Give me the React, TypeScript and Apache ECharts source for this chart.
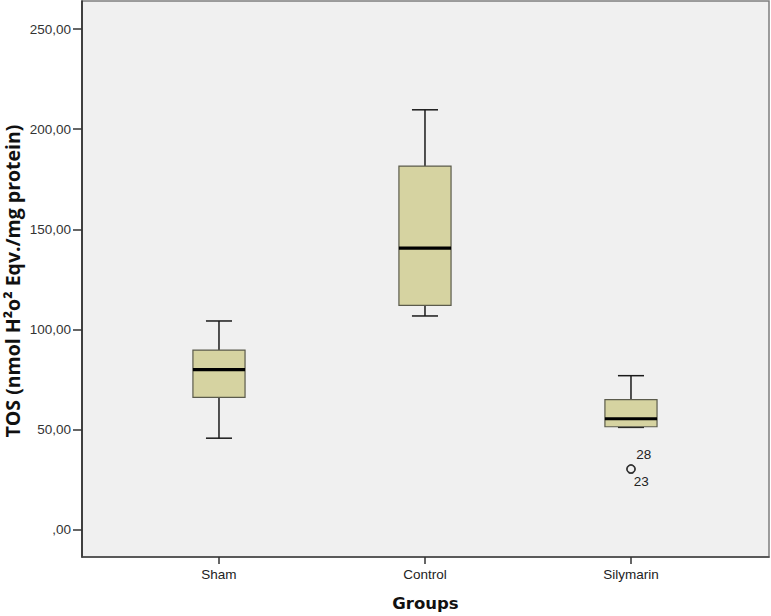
import React, { useEffect, useRef } from "react";
import * as echarts from "echarts";

const categories = ["Sham", "Control", "Silymarin"];
const lowWhisker = [45.8, 106.8, 51.2];
const q1Values = [66.2, 112.1, 51.5];
const medianValues = [80.0, 140.7, 55.5];
const q3Values = [89.8, 181.6, 65.0];
const highWhisker = [104.3, 209.7, 77.0];
const outliers = [
  { group: 2, value: 30.4, caseId: "28" },
  { group: 2, value: 30.4, caseId: "23" },
];
const yTicks = [0, 50, 100, 150, 200, 250];
const yTitle = "TOS (nmol H²o² Eqv./mg protein)";
const xTitle = "Groups";

export default function App() {
  const ref = useRef<HTMLDivElement>(null);
  useEffect(() => {
    document.body.style.margin = "0";
    const chart = echarts.init(ref.current!, undefined, { renderer: "svg" });
    const boxData = categories.map((_, i) => [
      i,
      lowWhisker[i],
      q1Values[i],
      medianValues[i],
      q3Values[i],
      highWhisker[i],
    ]);
    const option: any = {
      animation: false,
      backgroundColor: "#ffffff",
      grid: {
        left: 82,
        right: 2,
        top: 1,
        bottom: 59,
        containLabel: false,
        outerBoundsMode: "none",
        show: true,
        backgroundColor: "#f0f0f0",
        borderColor: "#7d7d7d",
        borderWidth: 1.5,
      },
      graphic: [
        {
          type: "text",
          x: 12,
          y: 281,
          rotation: Math.PI / 2,
          style: {
            text: yTitle,
            fontFamily: "Open Sans",
            fontWeight: "bold",
            fontSize: 19.5,
            fill: "#111",
            align: "center",
            verticalAlign: "middle",
          },
        },
      ],
      xAxis: {
        type: "value",
        min: -0.665,
        max: 2.67,
        name: xTitle,
        nameLocation: "middle",
        nameGap: 38,
        nameTextStyle: {
          fontFamily: "DejaVu Sans",
          fontWeight: "bold",
          fontSize: 16.5,
          color: "#111",
        },
        axisLine: { show: true, onZero: false, lineStyle: { color: "#444", width: 1.5 } },
        axisTick: {
          show: true,
          customValues: [0, 1, 2],
          length: 7,
          lineStyle: { color: "#333", width: 1.5 },
        },
        axisLabel: {
          customValues: [0, 1, 2],
          formatter: (v: number) => categories[Math.round(v)] ?? "",
          fontFamily: "Liberation Sans",
          fontSize: 13.5,
          color: "#222",
          margin: 10,
        },
        splitLine: { show: false },
      },
      yAxis: {
        type: "value",
        min: -13.5,
        max: 264,
        axisLine: { show: true, onZero: false, lineStyle: { color: "#222", width: 1.5 } },
        axisTick: {
          show: true,
          customValues: yTicks,
          length: 9,
          lineStyle: { color: "#333", width: 1.5 },
        },
        axisLabel: {
          customValues: yTicks,
          formatter: (v: number) =>
            v === 0 ? ",00" : v.toFixed(2).replace(".", ","),
          fontFamily: "Liberation Sans",
          fontSize: 13.5,
          color: "#333",
          margin: 11,
        },
        splitLine: { show: false },
      },
      series: [
        {
          type: "custom",
          data: boxData,
          encode: { x: 0, y: [1, 2, 3, 4, 5] },
          renderItem: (params: any, api: any) => {
            const x = api.value(0);
            const lo = api.coord([x, api.value(1)]);
            const q1 = api.coord([x, api.value(2)]);
            const med = api.coord([x, api.value(3)]);
            const q3 = api.coord([x, api.value(4)]);
            const hi = api.coord([x, api.value(5)]);
            const bw = api.size([1, 0])[0] * 0.253;
            const cw = bw / 2;
            const cx = lo[0];
            const lineStyle = { stroke: "#1a1a1a", lineWidth: 1.5 };
            return {
              type: "group",
              children: [
                { type: "line", shape: { x1: cx, y1: hi[1], x2: cx, y2: q3[1] }, style: lineStyle },
                { type: "line", shape: { x1: cx - cw / 2, y1: hi[1], x2: cx + cw / 2, y2: hi[1] }, style: lineStyle },
                { type: "line", shape: { x1: cx, y1: lo[1], x2: cx, y2: q1[1] }, style: lineStyle },
                { type: "line", shape: { x1: cx - cw / 2, y1: lo[1], x2: cx + cw / 2, y2: lo[1] }, style: lineStyle },
                {
                  type: "rect",
                  shape: { x: cx - bw / 2, y: q3[1], width: bw, height: q1[1] - q3[1] },
                  style: { fill: "#d6d3a1", stroke: "#5b5b4c", lineWidth: 1.2 },
                },
                {
                  type: "line",
                  shape: { x1: cx - bw / 2, y1: med[1], x2: cx + bw / 2, y2: med[1] },
                  style: { stroke: "#000", lineWidth: 3.2 },
                },
              ],
            };
          },
        },
        {
          type: "scatter",
          symbol: "circle",
          symbolSize: 8,
          itemStyle: { color: "#f0f0f0", borderColor: "#333333", borderWidth: 1.5, opacity: 1 },
          data: outliers.map((o, i) => ({
            value: [o.group, o.value],
            label: {
              show: true,
              formatter: o.caseId,
              position: i === 0 ? [10, -10] : [7.5, 17],
              align: "left",
              verticalAlign: "middle",
              fontFamily: "Liberation Sans",
              fontSize: 13.5,
              color: "#222222",
              textBorderWidth: 0,
            },
          })),
        },
      ],
    };
    chart.setOption(option);
    return () => chart.dispose();
  }, []);
  return <div ref={ref} style={{ width: 771, height: 616 }} />;
}
